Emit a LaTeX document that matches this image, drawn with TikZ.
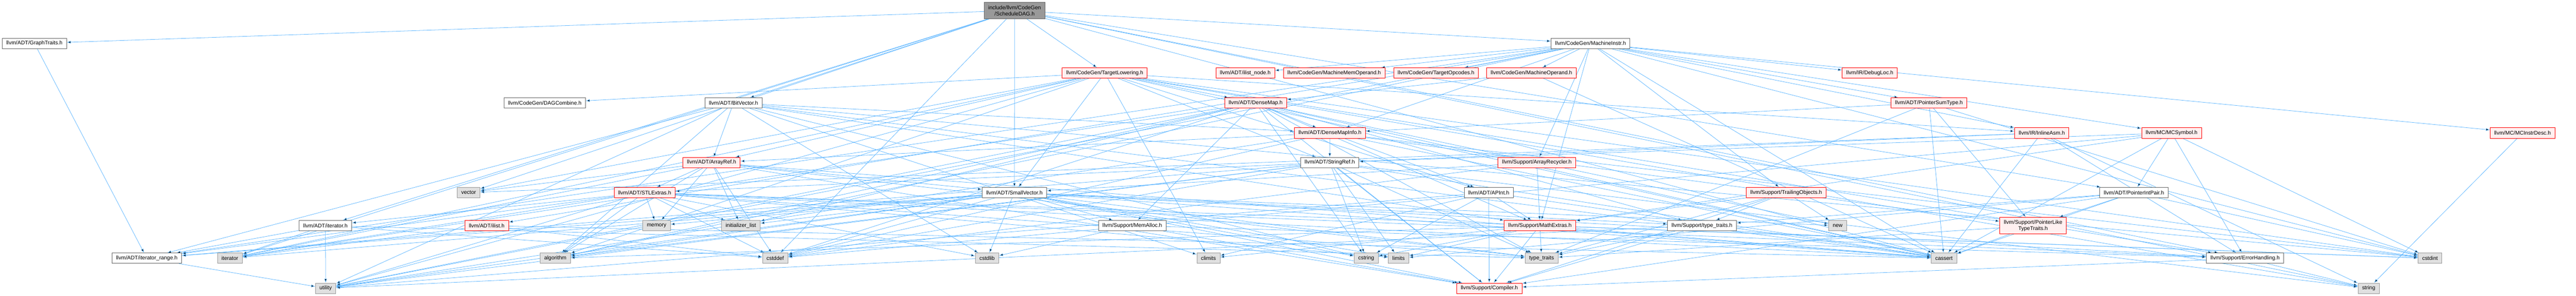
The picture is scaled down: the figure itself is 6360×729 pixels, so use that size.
\documentclass[tikz,border=0pt]{standalone}
\usepackage{fontspec}
\setmainfont{Liberation Sans}
\usetikzlibrary{arrows.meta}
\usetikzlibrary{backgrounds}
\definecolor{edgeblue}{HTML}{63B8FF}
\definecolor{nodegrey}{HTML}{666666}
\definecolor{sysfill}{HTML}{E0E0E0}
\definecolor{sysdraw}{HTML}{999999}
\definecolor{rootfill}{HTML}{999999}
\definecolor{truncfill}{HTML}{FFF0F0}

\begin{document}
\begin{tikzpicture}[x=1bp, y=-1bp]

\tikzstyle{header}=[rectangle, draw=nodegrey, fill=white, line width=1bp, minimum height=25.6bp, inner xsep=10bp, inner ysep=0bp, font=\fontsize{13.3bp}{15.5bp}\selectfont]
\tikzstyle{root}=[header, fill=rootfill, minimum height=41bp, align=center]
\tikzstyle{truncated}=[header, draw=red, fill=truncfill]
\tikzstyle{system}=[header, draw=sysdraw, fill=sysfill]

\tikzstyle{connect}=[-{Latex[length=10bp,width=7bp]}, draw=edgeblue, line width=1bp]

\useasboundingbox (0,0) rectangle (6360,729);

\node[root] (sd) at (2505,26) {include/llvm/CodeGen\\/ScheduleDAG.h};

\node[header] (gt) at (85,107) {llvm/ADT/GraphTraits.h};
\node[header] (mi) at (3927,107) {llvm/CodeGen/MachineInstr.h};

\node[truncated] (tl) at (2727.5,180) {llvm/CodeGen/TargetLowering.h};
\node[truncated] (iln) at (3074.5,180) {llvm/ADT/ilist\_node.h};
\node[truncated] (mmo) at (3294,180) {llvm/CodeGen/MachineMemOperand.h};
\node[truncated] (top) at (3545.5,180) {llvm/CodeGen/TargetOpcodes.h};
\node[truncated] (mo) at (3781,180) {llvm/CodeGen/MachineOperand.h};
\node[truncated] (dl) at (4616.5,180) {llvm/IR/DebugLoc.h};

\node[header] (dc) at (1345,254) {llvm/CodeGen/DAGCombine.h};
\node[header] (bv) at (1811,254) {llvm/ADT/BitVector.h};
\node[truncated] (dm) at (3100,254) {llvm/ADT/DenseMap.h};
\node[truncated] (pst) at (4762.5,254) {llvm/ADT/PointerSumType.h};

\node[truncated] (dmi) at (3283.5,328) {llvm/ADT/DenseMapInfo.h};
\node[truncated] (ia) at (5041,328) {llvm/IR/InlineAsm.h};
\node[truncated] (mcs) at (5361.5,328) {llvm/MC/MCSymbol.h};
\node[truncated] (mcid) at (6228,328) {llvm/MC/MCInstrDesc.h};

\node[truncated] (ar) at (1757,401) {llvm/ADT/ArrayRef.h};
\node[header] (sr) at (3283,401) {llvm/ADT/StringRef.h};
\node[truncated] (arc) at (3794.5,401) {llvm/Support/ArrayRecycler.h};

\node[system] (vec) at (1157,475) {vector};
\node[truncated] (stl) at (1591.5,475) {llvm/ADT/STLExtras.h};
\node[header] (sv) at (2504.5,475) {llvm/ADT/SmallVector.h};
\node[header] (api) at (3675.5,475) {llvm/ADT/APInt.h};
\node[truncated] (tobj) at (4410,475) {llvm/Support/TrailingObjects.h};
\node[header] (pip) at (5268.5,475) {llvm/ADT/PointerIntPair.h};

\node[header] (ith) at (803.5,556.5) {llvm/ADT/iterator.h};
\node[truncated] (il) at (1201.5,556.5) {llvm/ADT/ilist.h};
\node[system] (mem) at (1621,556.5) {memory};
\node[system] (inl) at (1829,556.5) {initializer\_list};
\node[header] (ma) at (2795.5,556.5) {llvm/Support/MemAlloc.h};
\node[truncated] (mx) at (3802,556.5) {llvm/Support/MathExtras.h};
\node[header] (tth) at (4202,556.5) {llvm/Support/type\_traits.h};
\node[system] (nw) at (4537,556.5) {new};
\node[truncated, minimum height=41bp, align=center] (pltt) at (5019.5,556.5) {llvm/Support/PointerLike\\TypeTraits.h};

\node[header] (itr) at (362.5,637) {llvm/ADT/iterator\_range.h};
\node[system] (it) at (567.5,637) {iterator};
\node[system] (alg) at (1371,637) {algorithm};
\node[system] (cdef) at (1914,637) {cstddef};
\node[system] (clib) at (2437,637) {cstdlib};
\node[system] (clim) at (2983.5,637) {climits};
\node[system] (cstr) at (3373,637) {cstring};
\node[system] (lim) at (3453,637) {limits};
\node[system] (tt) at (3806,637) {type\_traits};
\node[system] (cas) at (4799.5,637) {cassert};
\node[header] (eh) at (5543,637) {llvm/Support/ErrorHandling.h};
\node[system] (cint) at (5999.5,637) {cstdint};

\node[system] (util) at (804,711) {utility};
\node[truncated] (comp) at (3677,711) {llvm/Support/Compiler.h};
\node[system] (str) at (5848,711) {string};


\begin{pgfonlayer}{background}

\path (sd) [connect] edge (bv) edge (gt) edge (pip) edge (sv) edge (ith) edge (mi) edge (tl)
  edge (eh) edge (cas) edge (cdef) edge (it) edge (str) edge (vec);

\path (gt) [connect] edge (itr);

\path (mi) [connect] edge (dmi) edge (pst) edge (il) edge (iln) edge (itr) edge (mmo) edge (mo)
  edge (top) edge (dl) edge (ia) edge (mcid) edge (mcs) edge (arc) edge (mx) edge (tobj)
  edge (alg) edge (cas) edge (cint) edge (util);

\path (tl) [connect] edge (api) edge (ar) edge (dm) edge (sv) edge (sr) edge (dc) edge (ia)
  edge (eh) edge (alg) edge (cas) edge (clim) edge (cint) edge (it) edge (str) edge (util) edge (vec);

\path (mo) [connect] edge (dm) edge (cas);

\path (bv) [connect] edge (ar) edge (dmi) edge (itr) edge (mx) edge (alg) edge (cas) edge (clim)
  edge (cint) edge (clib) edge (cstr) edge (util);

\path (dm) [connect] edge (dmi) edge (comp) edge (mx) edge (ma) edge (tth) edge (alg) edge (cas)
  edge (cdef) edge (cstr) edge (inl) edge (it) edge (nw) edge (tt) edge (util);

\path (pst) [connect] edge (dmi) edge (pltt) edge (cas) edge (cint) edge (tt);

\path (dmi) [connect] edge (api) edge (ar) edge (sr) edge (pltt) edge (cas) edge (cdef) edge (cint) edge (util);

\path (ia) [connect] edge (sr) edge (eh) edge (cas) edge (str) edge (vec);

\path (mcs) [connect] edge (pip) edge (sr) edge (eh) edge (mx) edge (cas) edge (cdef) edge (cint);

\path (mcid) [connect] edge (str);

\path (ar) [connect] edge (sv) edge (stl) edge (comp) edge (alg) edge (cas) edge (cdef) edge (inl)
  edge (it) edge (mem) edge (tt) edge (vec);

\path (sr) [connect] edge (stl) edge (itr) edge (comp) edge (alg) edge (cas) edge (cdef) edge (cstr)
  edge (lim) edge (str) edge (tt) edge (util);

\path (arc) [connect] edge (sv) edge (mx) edge (cdef);

\path (stl) [connect] edge (ith) edge (itr) edge (eh) edge (alg) edge (cas) edge (cdef) edge (cint)
  edge (clib) edge (inl) edge (it) edge (lim) edge (mem) edge (tt) edge (util);

\path (sv) [connect] edge (itr) edge (comp) edge (eh) edge (ma) edge (tth) edge (alg) edge (cas)
  edge (cdef) edge (clib) edge (cstr) edge (inl) edge (it) edge (lim) edge (mem) edge (nw)
  edge (tt) edge (util);

\path (api) [connect] edge (comp) edge (mx) edge (cas) edge (clim) edge (cstr) edge (util);

\path (tobj) [connect] edge (comp) edge (mx) edge (tth) edge (nw) edge (tt);

\path (pip) [connect] edge (comp) edge (pltt) edge (tth) edge (cas) edge (cint) edge (lim);

\path (ith) [connect] edge (itr) edge (cdef) edge (it) edge (tt) edge (util);

\path (il) [connect] edge (cas) edge (cdef) edge (it);

\path (ma) [connect] edge (comp) edge (eh) edge (clib);

\path (mx) [connect] edge (comp) edge (alg) edge (cas) edge (clim) edge (cint) edge (cstr) edge (lim) edge (tt);

\path (tth) [connect] edge (comp) edge (tt) edge (util);

\path (pltt) [connect] edge (cas) edge (tt);

\path (eh) [connect] edge (comp) edge (str);

\path (itr) [connect] edge (util);

\end{pgfonlayer}

\end{tikzpicture}
\end{document}
